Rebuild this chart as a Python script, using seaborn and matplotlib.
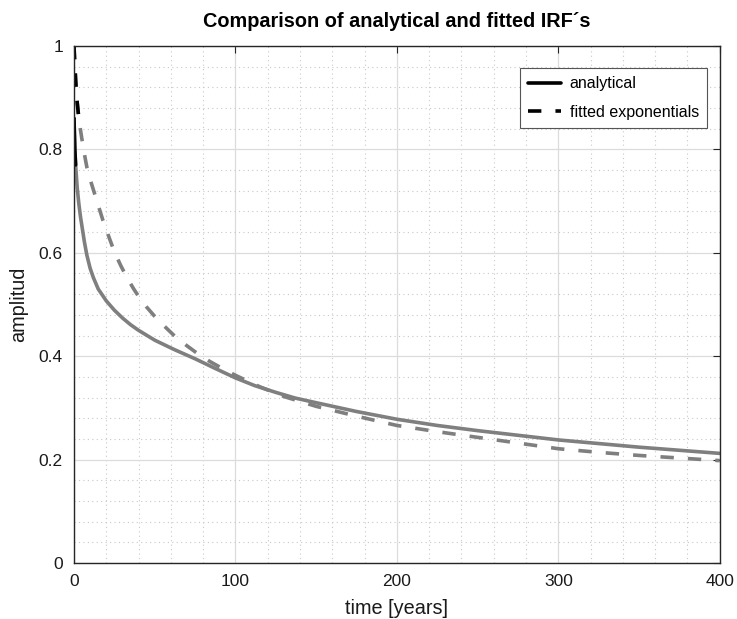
"""
Comparison of analytical and fitted impulse response functions (IRF).
"""

import matplotlib
matplotlib.use("Agg")
import matplotlib.pyplot as plt
from matplotlib.ticker import MultipleLocator
import seaborn as sns
import pandas as pd

# values
t_analytical = [0, 0.5, 1, 2, 3, 4, 5, 6.5, 8, 10, 12, 15, 20, 25, 30, 35,
                40, 50, 62, 75, 87, 100, 112, 125, 137, 150, 175, 200, 225,
                250, 275, 300, 325, 350, 375, 400]
amp_analytical = [0.86, 0.80, 0.77, 0.725, 0.695, 0.67, 0.65, 0.62, 0.595,
                  0.57, 0.552, 0.53, 0.507, 0.489, 0.474, 0.461, 0.45, 0.431,
                  0.413, 0.395, 0.377, 0.358, 0.343, 0.33, 0.319, 0.31,
                  0.293, 0.278, 0.266, 0.256, 0.247, 0.238, 0.231, 0.224,
                  0.218, 0.212]

t_fitted = [0, 0.5, 1, 1.5, 2, 3, 4, 5, 6.5, 8, 10, 12, 15, 18, 21, 25, 29,
            33, 37, 41, 45, 50, 57, 63, 70, 77, 84, 92, 100, 115, 130, 150,
            175, 200, 225, 250, 275, 300, 325, 350, 375, 400]
amp_fitted = [1.0, 0.965, 0.935, 0.91, 0.89, 0.86, 0.838, 0.818, 0.79, 0.765,
              0.742, 0.722, 0.692, 0.662, 0.636, 0.602, 0.575, 0.551, 0.53,
              0.511, 0.495, 0.477, 0.455, 0.437, 0.42, 0.404, 0.39, 0.376,
              0.363, 0.341, 0.322, 0.303, 0.284, 0.266, 0.254, 0.243, 0.232,
              0.221, 0.214, 0.208, 0.203, 0.198]

# the first years show up dark in the original
dark_until = {"analytical": 1.0, "fitted": 3.0}

df_a = pd.DataFrame({"t": t_analytical, "amp": amp_analytical})
df_f = pd.DataFrame({"t": t_fitted, "amp": amp_fitted})

sns.set_style("white")
plt.rcParams['font.family'] = ['Liberation Sans', 'DejaVu Sans']

fig = plt.figure(figsize=(7.37, 6.19), dpi=100)
ax = fig.add_axes([0.1004, 0.0905, 0.8762, 0.8352])

gray = "#7f7f7f"
lw = 2.6
dash = (0, (3.7, 3.9))

# gray full curves
sns.lineplot(data=df_a, x="t", y="amp", ax=ax, color=gray, lw=lw,
             estimator=None, sort=False)
sns.lineplot(data=df_f, x="t", y="amp", ax=ax, color=gray, lw=lw,
             linestyle=dash, estimator=None, sort=False)

# dark start segments (these carry the legend entries)
sns.lineplot(data=df_a[df_a.t <= dark_until["analytical"]], x="t", y="amp",
             ax=ax, color="black", lw=lw, estimator=None, sort=False,
             label="analytical")
sns.lineplot(data=df_f[df_f.t <= dark_until["fitted"]], x="t", y="amp",
             ax=ax, color="black", lw=lw, linestyle=dash, estimator=None,
             sort=False, label="fitted exponentials")

ax.set_xlim(0, 400)
ax.set_ylim(0, 1)
ax.xaxis.set_major_locator(MultipleLocator(100))
ax.xaxis.set_minor_locator(MultipleLocator(20))
ax.yaxis.set_major_locator(MultipleLocator(0.2))
ax.yaxis.set_minor_locator(MultipleLocator(0.04))
ax.set_yticks([0, 0.2, 0.4, 0.6, 0.8, 1])
ax.set_yticklabels(["0", "0.2", "0.4", "0.6", "0.8", "1"])

ax.grid(which="major", color="#dcdcdc", lw=0.9, ls="-")
ax.grid(which="minor", color="#c8c8c8", lw=0.8, ls=(0, (1, 3)))
ax.set_axisbelow(True)

for sp in ax.spines.values():
    sp.set_color("#262626")
    sp.set_linewidth(1.0)

ax.tick_params(which="major", direction="in", length=5, width=0.8,
               labelsize=12.5, pad=8, colors="#262626",
               top=True, right=True, labelcolor="#1a1a1a")
ax.tick_params(which="minor", length=0)

ax.set_xlabel("time [years]", fontsize=14.3, labelpad=7, color="#1a1a1a")
ax.set_ylabel("amplitud", fontsize=14.3, labelpad=8, color="#1a1a1a")
ax.set_title("Comparison of analytical and fitted IRF\u00b4s", fontsize=14.3,
             fontweight="bold", pad=14, color="black")

leg = ax.legend(loc="upper right", bbox_to_anchor=(0.980, 0.957),
                borderaxespad=0, fontsize=11.5, fancybox=False,
                framealpha=1, edgecolor="#555555", handlelength=2.05,
                handletextpad=0.55, borderpad=0.5, labelspacing=0.85)
leg.get_frame().set_linewidth(0.8)
for txt in leg.get_texts():
    txt.set_color("black")

fig.savefig("out.png", dpi=100)
